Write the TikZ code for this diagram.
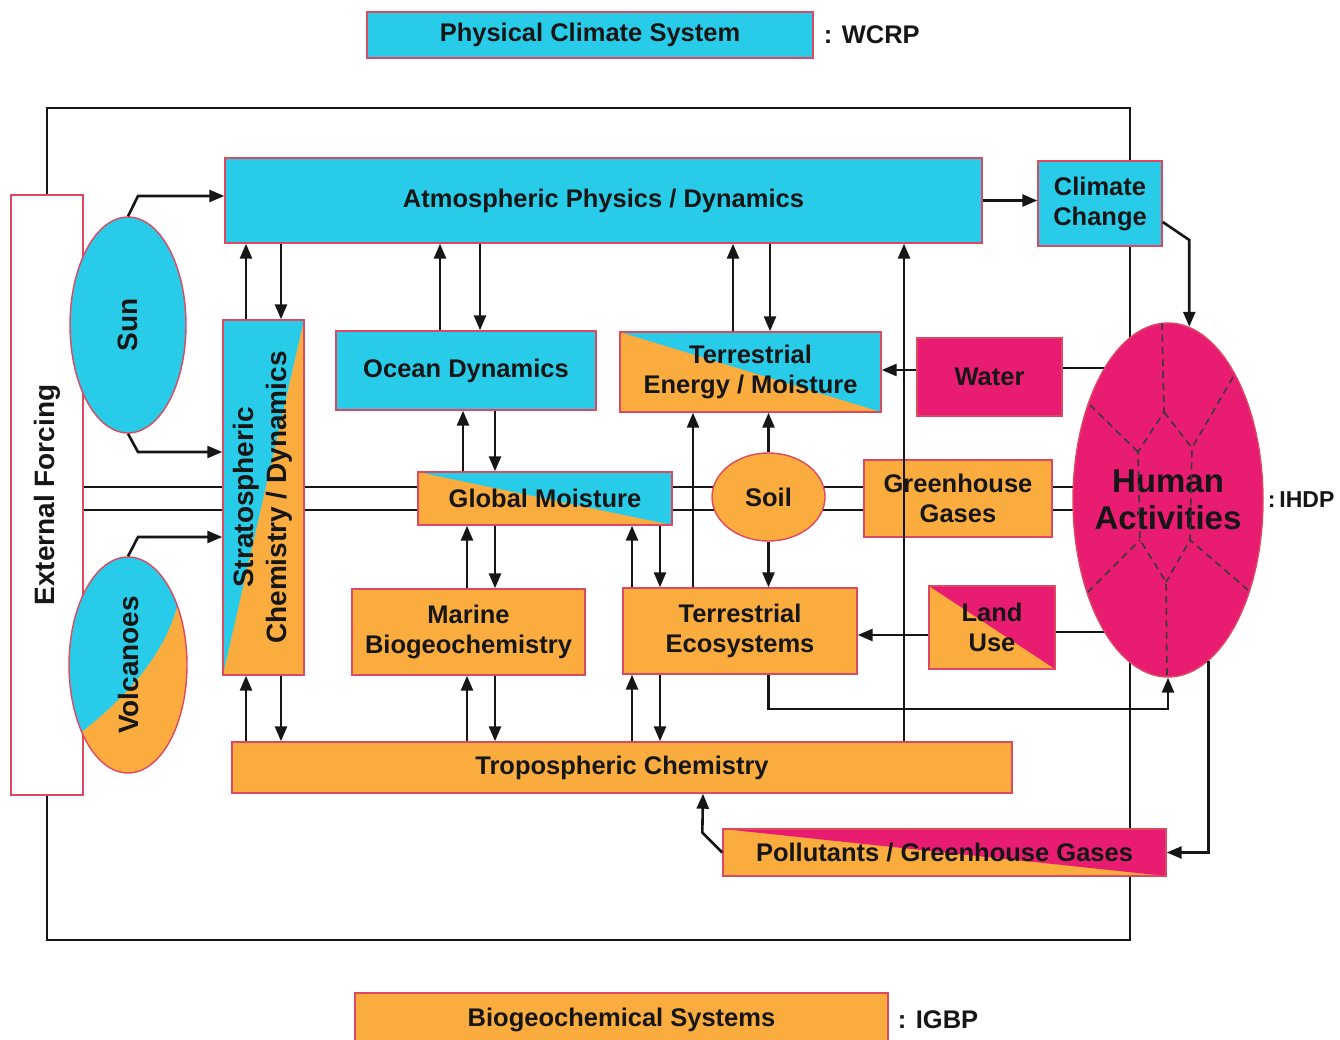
\documentclass[tikz,border=0pt]{standalone}
\usepackage{fontspec}
\setmainfont{Liberation Sans}
\usepackage{graphicx}
\usetikzlibrary{arrows.meta,shapes.geometric,backgrounds,positioning}

\definecolor{skyfill}{RGB}{41,204,232}
\definecolor{ambfill}{RGB}{250,172,62}
\definecolor{rosefill}{RGB}{232,28,112}
\definecolor{edgered}{RGB}{222,72,96}
\definecolor{ink}{RGB}{22,22,22}

\tikzset{
  boxbase/.style={draw=edgered,line width=1.4pt,text=ink,inner sep=0pt,
    font=\fontsize{25.5}{30}\selectfont\bfseries,align=center},
  phys/.style={boxbase,rectangle,fill=skyfill},
  bio/.style={boxbase,rectangle,fill=ambfill},
  hum/.style={boxbase,rectangle,fill=rosefill},
  oval/.style={boxbase,ellipse},
  tag/.style={text=ink,inner sep=0pt,font=\fontsize{25.5}{30}\selectfont\bfseries},
  link/.style={draw=ink,line width=2.6pt},
  arr/.style={link,-{Triangle[length=15pt,width=12pt]}},
  hdash/.style={draw=ink!85,line width=1.6pt,dash pattern=on 7pt off 5pt},
  % two-colour boxes: a triangle in a second colour
  skycut/.style={path picture={\fill[skyfill] (path picture bounding box.north west)
    -- (path picture bounding box.north east) -- (path picture bounding box.south east) -- cycle;}},
  rosecut/.style={path picture={\fill[rosefill] (path picture bounding box.north west)
    -- (path picture bounding box.north east) -- (path picture bounding box.south east) -- cycle;}},
  stratcut/.style={path picture={\fill[ambfill] (path picture bounding box.north east)
    -- (path picture bounding box.south east) -- (path picture bounding box.south west) -- cycle;}}
}

\begin{document}
\begin{tikzpicture}[x=1pt,y=-1pt]
\useasboundingbox (0,0) rectangle (1340,1040);

% legend
\node[phys,minimum width=446pt,minimum height=46pt] (pcs) at (590,35) {Physical Climate System};
\node[tag,right=10pt of pcs] (wcrp) {: WCRP};
\node[bio,minimum width=533pt,minimum height=53pt] (bgs) at (621.5,1019.5) {Biogeochemical Systems};
\node[tag,right=9pt of bgs] (igbp) {: IGBP};

% forcing
\node[boxbase,fill=white,minimum width=72pt,minimum height=600pt] (ext) at (47,495)
  {\rotatebox{90}{\fontsize{28}{32}\selectfont External Forcing}};
\node[oval,fill=skyfill,minimum width=116pt,minimum height=216pt] (sun) at (128,325)
  {\rotatebox{90}{\fontsize{28}{32}\selectfont Sun}};
\coordinate (volcpos) at (128,665);
\begin{scope}[shift={(volcpos)}]
\fill[skyfill] (0,0) ellipse [x radius=59, y radius=108];
\clip (0,0) ellipse [x radius=59, y radius=108];
\fill[ambfill] (52,-70) .. controls (40,-10) and (-5,35) .. (-50,70)
  -- (-50,130) -- (80,130) -- (80,-70) -- cycle;
\end{scope}
\node[oval,minimum width=118pt,minimum height=216pt] (volc) at (volcpos)
  {\rotatebox{90}{\fontsize{28}{32}\selectfont Volcanoes}};

% physical climate system
\node[phys,minimum width=757pt,minimum height=85pt] (atm) at (603.5,200.5) {Atmospheric Physics / Dynamics};
\node[phys,minimum width=124pt,minimum height=85pt] (cc) at (1100,203.5) {Climate\\Change};
\node[phys,minimum width=81pt,minimum height=355pt,stratcut] (strat) at (263.5,497.5)
  {\rotatebox{90}{\fontsize{28}{33}\selectfont\begin{tabular}{@{}c@{}}Stratospheric\\Chemistry / Dynamics\end{tabular}}};
\node[phys,minimum width=260pt,minimum height=79pt] (ocean) at (466,370.5) {Ocean Dynamics};
\node[bio,minimum width=261pt,minimum height=80pt,skycut] (tem) at (750.5,372) {Terrestrial\\Energy / Moisture};
\node[bio,minimum width=254pt,minimum height=53pt,skycut] (gm) at (545,498.5) {Global Moisture};

% biogeochemistry
\node[oval,fill=ambfill,minimum width=113pt,minimum height=88pt] (soil) at (768.5,497) {Soil};
\node[bio,minimum width=188pt,minimum height=77pt] (ghg) at (958,498.5) {Greenhouse\\Gases};
\node[bio,minimum width=233pt,minimum height=86pt] (marine) at (468.5,632) {Marine\\Biogeochemistry};
\node[bio,minimum width=234pt,minimum height=86pt] (te) at (740,631) {Terrestrial\\Ecosystems};
\node[bio,minimum width=780pt,minimum height=51pt] (trop) at (622,767.5) {Tropospheric Chemistry};

% human dimensions
\node[hum,minimum width=145pt,minimum height=78pt] (water) at (989.5,377) {Water};
\node[bio,minimum width=126pt,minimum height=83pt,rosecut] (land) at (992,627.5) {Land\\Use};
\node[bio,minimum width=443pt,minimum height=47pt,rosecut] (poll) at (944.5,852.5) {Pollutants / Greenhouse Gases};
\node[oval,fill=rosefill,minimum width=190pt,minimum height=354pt,
  font=\fontsize{33}{37}\selectfont\bfseries] (human) at (1168,500)
  {\makebox[0pt]{Human}\\\makebox[0pt]{Activities}};
\node[tag,right=4pt of human,font=\fontsize{23}{28}\selectfont\bfseries] (ihdp) {:\,IHDP};

% dashed sectors inside the human ellipse
\begin{scope}[shift={(human.center)}]
\clip (0,0) ellipse [x radius=95, y radius=177];
\draw[hdash] (-6,-177) -- (-4,-88) -- (-30,-48) -- (-28,40) -- (-2,82) -- (-1,177);
\draw[hdash] (-4,-88) -- (24,-52) -- (22,40) -- (-2,82);
\draw[hdash] (-78,-95) -- (-30,-48);
\draw[hdash] (65,-123) -- (24,-52);
\draw[hdash] (-80,92) -- (-28,40);
\draw[hdash] (80,90) -- (22,40);
\end{scope}

\begin{scope}[on background layer]
\draw[link] (ext.north) |- (1130,108) -- (1130,940) -| (ext.south);
\draw[link] (ext.east |- 0,487) -- (human.center |- 0,487);
\draw[link] (ext.east |- 0,510) -- (human.center |- 0,510);
\draw[link] (water.east |- 0,368) -- (human.center |- 0,368);
\draw[link] (land.east |- 0,632) -- (human.center |- 0,632);
\end{scope}

% forcing arrows
\draw[arr] (sun.north) -- (138,196) -- (atm.west |- 0,196);
\draw[arr] (sun.south) -- (138,452) -- (strat.west |- 0,452);
\draw[arr] (volc.north) -- (138,537) -- (strat.west |- 0,537);

% exchanges with the atmosphere
\draw[arr] (strat.north -| 246,0) -- (atm.south -| 246,0);
\draw[arr] (atm.south -| 281,0) -- (strat.north -| 281,0);
\draw[arr] (ocean.north -| 440,0) -- (atm.south -| 440,0);
\draw[arr] (atm.south -| 480,0) -- (ocean.north -| 480,0);
\draw[arr] (tem.north -| 733,0) -- (atm.south -| 733,0);
\draw[arr] (atm.south -| 770,0) -- (tem.north -| 770,0);
\draw[arr] (trop.north -| 904,0) -- (atm.south -| 904,0);
\draw[arr] (atm.east) -- (cc.west |- atm.east);

% moisture and chemistry
\draw[arr] (gm.north -| 463,0) -- (ocean.south -| 463,0);
\draw[arr] (ocean.south -| 495,0) -- (gm.north -| 495,0);
\draw[arr] (marine.north -| 467,0) -- (gm.south -| 467,0);
\draw[arr] (gm.south -| 495,0) -- (marine.north -| 495,0);
\draw[arr] (te.north -| 632,0) -- (gm.south -| 632,0);
\draw[arr] (gm.south -| 660,0) -- (te.north -| 660,0);
\draw[arr] (trop.north -| 246,0) -- (strat.south -| 246,0);
\draw[arr] (strat.south -| 281,0) -- (trop.north -| 281,0);
\draw[arr] (trop.north -| 467,0) -- (marine.south -| 467,0);
\draw[arr] (marine.south -| 495,0) -- (trop.north -| 495,0);
\draw[arr] (trop.north -| 632,0) -- (te.south -| 632,0);
\draw[arr] (te.south -| 660,0) -- (trop.north -| 660,0);

% land surface
\draw[arr] (te.north -| 693,0) -- (tem.south -| 693,0);
\draw[arr] (soil.north) -- (soil.north |- tem.south);
\draw[arr] (soil.south) -- (soil.south |- te.north);
\draw[arr] (water.west |- 0,370) -- (tem.east |- 0,370);
\draw[arr] (land.west |- 0,635) -- (te.east |- 0,635);
\draw[arr] (te.south -| soil.south) |- (human.south |- 0,709) -- (human.south);

% human loop
\draw[arr] (cc.east |- 0,222) -- (human.83 |- 0,240) -- (human.83);
\draw[arr] (human.-76) |- (poll.east);
\draw[arr] (poll.west) -- ++(-20,-20) -- (trop.south -| 703,0);
\end{tikzpicture}
\end{document}
